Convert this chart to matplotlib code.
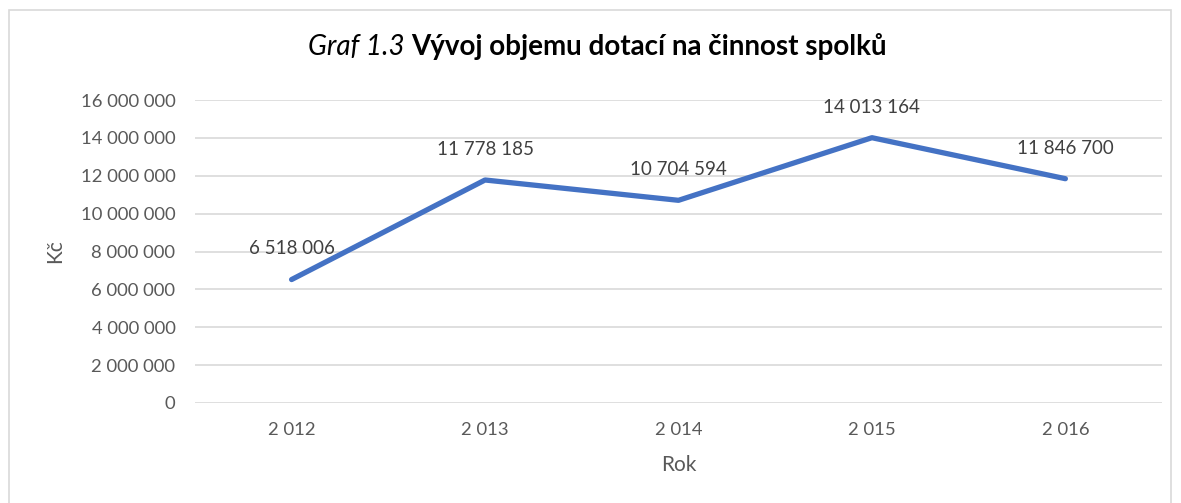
import matplotlib
matplotlib.use('Agg')
import matplotlib.pyplot as plt
import matplotlib.patches as mpatches
from matplotlib.ticker import FuncFormatter

# ── data ──────────────────────────────────────────────────────────────────────
years = [2012, 2013, 2014, 2015, 2016]
year_labels = ['2 012', '2 013', '2 014', '2 015', '2 016']
subsidies = [6518006, 11778185, 10704594, 14013164, 11846700]

FONT = 'Lato'
LINE = '#4472C4'
GREY = '#595959'

def spaced(v, pos=None):
    return f'{int(v):,}'.replace(',', ' ')

fig = plt.figure(figsize=(11.81, 5.03), dpi=100)
fig.patch.set_facecolor('white')

# outer chart border
fig.patches.append(mpatches.Rectangle((9 / 1181, -0.05), 1162 / 1181, 1 - 10 / 503 + 0.05,
                                      transform=fig.transFigure, fill=False,
                                      edgecolor='#D9D9D9', linewidth=1.2))

ax = fig.add_axes([0.165, 0.199, 0.819, 0.602])
x = list(range(len(years)))
ax.plot(x, subsidies, color=LINE, linewidth=3.8, solid_capstyle='round',
        solid_joinstyle='round', zorder=3)

# data labels centred just above each point
for xi, v in zip(x, subsidies):
    ax.annotate(spaced(v), (xi, v), xytext=(0, 22), textcoords='offset points',
                ha='center', va='center', fontsize=13.5, color='#404040', family=FONT)

ax.set_xlim(-0.5, len(years) - 0.5)
ax.set_ylim(0, 16000000)
ax.set_yticks(range(0, 16000001, 2000000))
ax.yaxis.set_major_formatter(FuncFormatter(spaced))
ax.set_xticks(x)
ax.set_xticklabels(year_labels)
ax.grid(axis='y', color='#D9D9D9', linewidth=1.2)
ax.set_axisbelow(True)
for s in ax.spines.values():
    s.set_visible(False)
ax.tick_params(length=0, labelsize=13.3, labelcolor=GREY)
ax.tick_params(axis='y', pad=14)
ax.tick_params(axis='x', pad=14)
for lab in ax.get_xticklabels() + ax.get_yticklabels():
    lab.set_family(FONT)

ax.set_ylabel('Kč', fontsize=15, color=GREY, family=FONT, labelpad=11)
ax.set_xlabel('Rok', fontsize=15, color=GREY, family=FONT, labelpad=12)

# title: italic label + bold text, centred as a pair
ty = 1 - 47 / 503
t1 = fig.text(0.5, ty, 'Graf 1.3 ', fontsize=20, style='italic',
              family=FONT, ha='right', va='center')
t2 = fig.text(0.5, ty, 'Vývoj objemu dotací na činnost spolků', fontsize=20,
              weight='bold', family=FONT, ha='left', va='center')
fig.canvas.draw()
r = fig.canvas.get_renderer()
w1 = t1.get_window_extent(r).width
w2 = t2.get_window_extent(r).width
shift = (w1 - w2) / 2 / fig.bbox.width + 0.006
for t in (t1, t2):
    xx, yy = t.get_position()
    t.set_position((xx + shift, yy))

fig.savefig('out.png', dpi=100, facecolor='white')
